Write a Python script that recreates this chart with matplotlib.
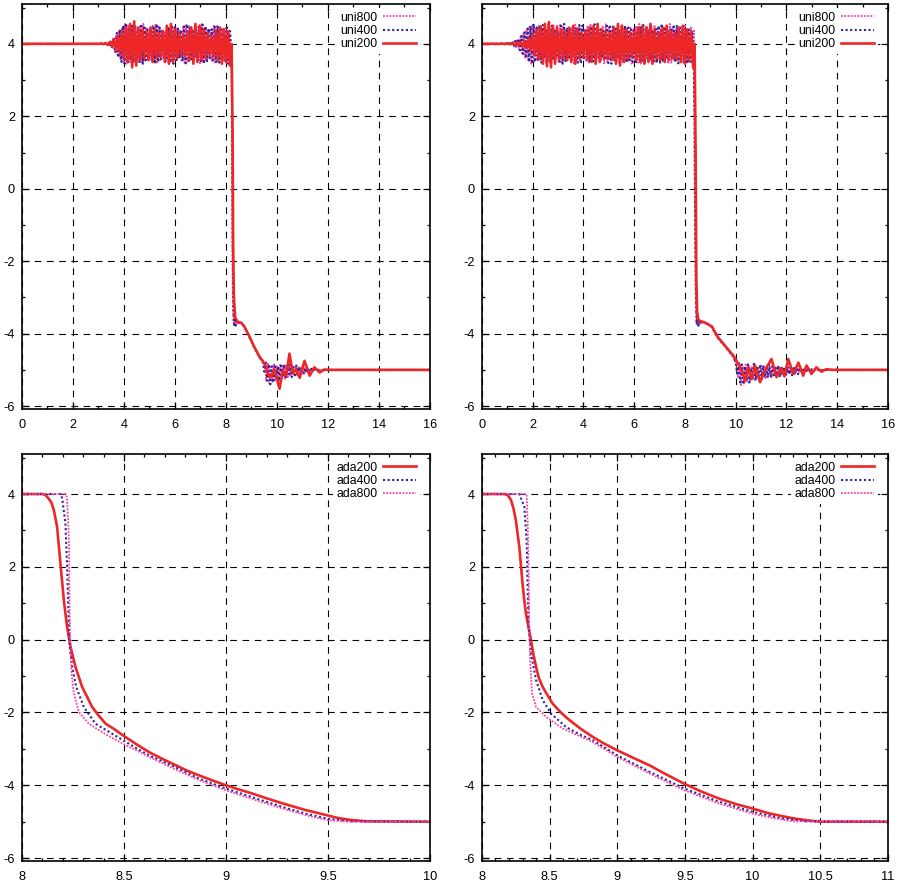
import matplotlib
matplotlib.use("Agg")
import matplotlib.pyplot as plt
from matplotlib.ticker import MultipleLocator, AutoMinorLocator
import numpy as np

plt.rcParams["font.family"] = ["Liberation Sans", "DejaVu Sans"]
plt.rcParams["axes.unicode_minus"] = False

RED = "#ee2626"
BLUE = "#27279a"
PINK = "#ff3fa6"

# ---------- top-left: uniform meshes ----------
# upper oscillations: (start, step, values)
tl_uni200_hi_x0, tl_uni200_hi_dx = 3.04, 0.08
tl_uni200_hi = [
    4.0, 4.01, 3.99, 4.02, 3.97, 4.05, 3.93, 4.12, 3.85, 4.22,
    3.72, 4.35, 3.6, 4.45, 3.5, 4.55, 3.35, 4.62, 3.4, 4.45,
    3.55, 4.4, 3.6, 4.35, 3.55, 4.45, 3.5, 4.4, 3.6, 4.3,
    3.65, 4.35, 3.5, 4.5, 3.45, 4.55, 3.5, 4.4, 3.6, 4.3,
    3.7, 4.25, 3.65, 4.35, 3.55, 4.45, 3.45, 4.55, 3.5, 4.5,
    3.55, 4.4, 3.6, 4.3, 3.7, 4.2, 3.65, 4.35, 3.55, 4.45,
    3.45, 4.4, 3.5, 4.35, 3.4]
tl_uni200_rest_x = [8.22, 8.26, 8.28, 8.31, 8.36, 8.45, 8.6, 8.72, 8.9, 9.1,
                    9.3, 9.44, 9.56, 9.64, 9.77, 9.9, 10.02, 10.1, 10.23, 10.36,
                    10.49, 10.62, 10.75, 10.89, 11.08, 11.28, 11.47, 11.67, 11.87, 12.0]
tl_uni200_rest_y = [4.0, 1.5, -1.5, -3.0, -3.55, -3.68, -3.7, -3.8, -4.05, -4.35,
                    -4.62, -4.75, -4.9, -5.11, -5.2, -4.98, -5.3, -5.52, -5.02, -5.16,
                    -4.55, -5.1, -4.98, -5.22, -4.75, -5.16, -4.93, -5.07, -4.99, -5.0]

tl_uni400_hi_x0, tl_uni400_hi_dx = 3.30, 0.06
tl_uni400_hi = [
    4.0, 4.02, 3.97, 4.06, 3.9, 4.18, 3.75, 4.3, 3.62, 4.4, 3.5, 4.5,
    3.45, 4.55, 3.5, 4.45, 3.55, 4.5, 3.48, 4.52, 3.6, 4.4,
    3.5, 4.55, 3.45, 4.5, 3.55, 4.4, 3.62, 4.35, 3.5, 4.5,
    3.45, 4.55, 3.5, 4.45, 3.58, 4.4, 3.65, 4.3, 3.55, 4.45,
    3.48, 4.52, 3.45, 4.5, 3.55, 4.42, 3.6, 4.38, 3.52, 4.48,
    3.46, 4.54, 3.5, 4.45, 3.58, 4.4, 3.62, 4.35, 3.55, 4.5,
    3.47, 4.53, 3.45, 4.48, 3.52, 4.42, 3.6, 4.4, 3.55, 4.47,
    3.5, 4.5, 3.48, 4.45, 3.55, 4.4, 3.5, 4.45, 3.45, 4.35, 3.6]
tl_uni400_mid_x = [8.25, 8.27, 8.29, 8.32, 8.35, 8.38, 8.42, 8.48, 8.6, 8.72, 8.9, 9.1, 9.3, 9.45]
tl_uni400_mid_y = [1.0, -2.0, -3.3, -3.8, -3.5, -3.78, -3.6, -3.72, -3.7, -3.82, -4.07, -4.37, -4.64, -4.8]
tl_uni400_lo_x0, tl_uni400_lo_dx = 9.5, 0.06
tl_uni400_lo = [
    -5.05, -4.8, -5.3, -4.85, -5.4, -4.9, -5.35, -4.85, -5.25, -4.9,
    -5.3, -4.88, -5.2, -4.85, -5.25, -4.9, -5.18, -4.85, -5.2, -4.92,
    -5.15, -4.88, -5.18, -4.92, -5.12, -4.93, -5.1, -4.95, -5.08, -4.96,
    -5.05, -4.97, -5.03, -4.98, -5.01, -5.0]

tl_uni800_hi_x0, tl_uni800_hi_dx = 3.32, 0.06
tl_uni800_hi = [
    4.0, 3.98, 4.04, 3.94, 4.1, 3.85, 4.22, 3.7, 4.35, 3.58, 4.45, 3.5,
    4.55, 3.45, 4.5, 3.5, 4.45, 3.55, 4.5, 3.6, 4.4, 3.5,
    4.52, 3.45, 4.55, 3.5, 4.42, 3.58, 4.38, 3.55, 4.5, 3.48,
    4.55, 3.45, 4.5, 3.55, 4.4, 3.6, 4.35, 3.52, 4.48, 3.46,
    4.53, 3.5, 4.45, 3.55, 4.42, 3.62, 4.4, 3.5, 4.5, 3.45,
    4.55, 3.48, 4.48, 3.56, 4.4, 3.6, 4.38, 3.52, 4.5, 3.46,
    4.54, 3.5, 4.47, 3.55, 4.4, 3.6, 4.42, 3.5, 4.5, 3.45,
    4.52, 3.5, 4.45, 3.55, 4.42, 3.5, 4.48, 3.45, 4.4, 3.55]
tl_uni800_mid_x = [8.22, 8.24, 8.26, 8.28, 8.31, 8.34, 8.37, 8.41, 8.46, 8.55, 8.7, 8.9, 9.1, 9.3, 9.45]
tl_uni800_mid_y = [4.0, 0.5, -2.5, -3.5, -3.75, -3.55, -3.8, -3.6, -3.75, -3.68, -3.78, -4.06, -4.36, -4.63, -4.8]
tl_uni800_lo_x0, tl_uni800_lo_dx = 9.52, 0.06
tl_uni800_lo = [
    -4.85, -5.3, -4.8, -5.38, -4.88, -5.35, -4.82, -5.28, -4.9, -5.32,
    -4.86, -5.22, -4.88, -5.25, -4.87, -5.2, -4.9, -5.18, -4.9, -5.15,
    -4.92, -5.16, -4.9, -5.12, -4.94, -5.1, -4.95, -5.08, -4.96, -5.06,
    -4.97, -5.04, -4.98, -5.02, -5.0]

# ---------- top-right ----------
tr_uni200_hi_x0, tr_uni200_hi_dx = 0.64, 0.08
tr_uni200_hi = [
    4.0, 4.0, 4.01, 3.99,
    4.0, 4.01, 3.99, 4.01, 3.98, 4.03, 3.96, 4.05, 3.93, 4.08,
    3.88, 4.15, 3.8, 4.25, 3.7, 4.38, 3.58, 4.48, 3.45, 4.55,
    3.38, 4.6, 3.35, 4.5, 3.45, 4.45, 3.55, 4.4, 3.6, 4.35,
    3.55, 4.45, 3.5, 4.5, 3.45, 4.4, 3.6, 4.3, 3.65, 4.35,
    3.55, 4.45, 3.5, 4.5, 3.45, 4.55, 3.5, 4.4, 3.6, 4.35,
    3.6, 4.3, 3.55, 4.45, 3.45, 4.55, 3.4, 4.5, 3.5, 4.4,
    3.6, 4.3, 3.65, 4.35, 3.55, 4.45, 3.5, 4.5, 3.45, 4.45,
    3.5, 4.55, 3.45, 4.4, 3.6, 4.3, 3.55, 4.45, 3.5, 4.5,
    3.55, 4.35, 3.6, 4.3, 3.55, 4.45, 3.5, 4.5, 3.45, 4.4,
    3.55, 4.35, 3.35]
tr_uni200_rest_x = [8.38, 8.42, 8.45, 8.48, 8.53, 8.6, 8.8, 9.06, 9.3, 9.6,
                    9.91, 10.11, 10.24, 10.37, 10.5, 10.63, 10.76, 10.96, 11.15, 11.41,
                    11.61, 11.8, 11.92, 12.07, 12.27, 12.47, 12.66, 12.79, 12.99, 13.18,
                    13.38, 13.57, 13.8]
tr_uni200_rest_y = [4.0, 1.0, -2.5, -3.4, -3.62, -3.65, -3.7, -3.8, -4.1, -4.35,
                    -4.61, -4.84, -5.02, -5.3, -4.93, -5.25, -4.88, -5.34, -5.02, -4.7,
                    -5.2, -4.95, -5.18, -4.7, -5.11, -4.8, -5.16, -4.88, -5.11, -4.93,
                    -5.05, -4.98, -5.0]

tr_uni400_hi_x0, tr_uni400_hi_dx = 0.84, 0.06
tr_uni400_hi = [
    4.0, 4.0, 4.01, 3.99, 4.02, 3.97, 4.04, 3.94, 4.08, 3.9, 4.14, 3.82, 4.22, 3.72, 4.32, 3.6, 4.42,
    3.5, 4.5, 3.45, 4.55, 3.5, 4.45, 3.55, 4.5, 3.48, 4.52,
    3.6, 4.4, 3.5, 4.55, 3.45, 4.5, 3.55, 4.4, 3.62, 4.35,
    3.5, 4.5, 3.45, 4.55, 3.5, 4.45, 3.58, 4.4, 3.65, 4.3,
    3.55, 4.45, 3.48, 4.52, 3.45, 4.5, 3.55, 4.42, 3.6, 4.38,
    3.52, 4.48, 3.46, 4.54, 3.5, 4.45, 3.58, 4.4, 3.62, 4.35,
    3.55, 4.5, 3.47, 4.53, 3.45, 4.48, 3.52, 4.42, 3.6, 4.4,
    3.55, 4.47, 3.5, 4.5, 3.48, 4.45, 3.55, 4.4, 3.5, 4.45,
    3.45, 4.35, 3.6, 4.45, 3.5, 4.52, 3.45, 4.5, 3.55, 4.4,
    3.6, 4.38, 3.52, 4.46, 3.48, 4.5, 3.45, 4.55, 3.5, 4.42,
    3.58, 4.36, 3.62, 4.4, 3.55, 4.48, 3.5, 4.52, 3.46, 4.45,
    3.55, 4.4, 3.5, 4.45, 3.45, 4.4, 3.5, 4.35, 3.6]
tr_uni400_mid_x = [8.38, 8.41, 8.44, 8.47, 8.5, 8.54, 8.58, 8.63, 8.7, 8.85, 9.06, 9.3, 9.6, 9.9]
tr_uni400_mid_y = [2.0, -1.5, -3.2, -3.75, -3.55, -3.78, -3.62, -3.72, -3.68, -3.7, -3.82, -4.12, -4.37, -4.63]
tr_uni400_lo_x0, tr_uni400_lo_dx = 10.0, 0.06
tr_uni400_lo = [
    -4.8, -5.1, -4.9, -5.35, -4.85, -5.4, -4.9, -5.3, -4.85, -5.35,
    -4.95, -5.25, -4.8, -5.3, -4.9, -5.2, -4.85, -5.25, -4.88, -5.2,
    -4.9, -5.22, -4.85, -5.18, -4.9, -5.2, -4.92, -5.15, -4.88, -5.2,
    -4.9, -5.15, -4.92, -5.18, -4.9, -5.12, -4.93, -5.15, -4.92, -5.1,
    -4.94, -5.12, -4.95, -5.08, -4.95, -5.07, -4.96, -5.05, -4.97, -5.04,
    -4.98, -5.03, -4.99, -5.02, -4.99, -5.01, -5.0, -5.01, -5.0]

tr_uni800_hi_x0, tr_uni800_hi_dx = 0.86, 0.06
tr_uni800_hi = [
    4.0, 4.01, 3.99, 4.02, 3.98, 4.04, 3.95, 4.07, 3.9, 4.13, 3.84, 4.2, 3.74, 4.3, 3.62, 4.4, 3.52,
    4.5, 3.45, 4.55, 3.5, 4.45, 3.55, 4.5, 3.6, 4.4, 3.5,
    4.52, 3.45, 4.55, 3.5, 4.42, 3.58, 4.38, 3.55, 4.5, 3.48,
    4.55, 3.45, 4.5, 3.55, 4.4, 3.6, 4.35, 3.52, 4.48, 3.46,
    4.53, 3.5, 4.45, 3.55, 4.42, 3.62, 4.4, 3.5, 4.5, 3.45,
    4.55, 3.48, 4.48, 3.56, 4.4, 3.6, 4.38, 3.52, 4.5, 3.46,
    4.54, 3.5, 4.47, 3.55, 4.4, 3.6, 4.42, 3.5, 4.5, 3.45,
    4.52, 3.5, 4.45, 3.55, 4.42, 3.5, 4.48, 3.45, 4.4, 3.55,
    4.5, 3.48, 4.55, 3.45, 4.45, 3.55, 4.4, 3.6, 4.35, 3.52,
    4.48, 3.46, 4.52, 3.5, 4.45, 3.56, 4.4, 3.6, 4.45, 3.5,
    4.5, 3.45, 4.55, 3.48, 4.46, 3.54, 4.4, 3.6, 4.42, 3.5,
    4.48, 3.45, 4.5, 3.5, 4.4, 3.55, 4.45, 3.5, 4.4]
tr_uni800_mid_x = [8.36, 8.39, 8.42, 8.45, 8.48, 8.52, 8.56, 8.61, 8.68, 8.85, 9.06, 9.3, 9.6, 9.9]
tr_uni800_mid_y = [3.0, -0.5, -2.8, -3.7, -3.5, -3.8, -3.6, -3.75, -3.66, -3.72, -3.8, -4.1, -4.36, -4.64]
tr_uni800_lo_x0, tr_uni800_lo_dx = 10.03, 0.06
tr_uni800_lo = [
    -4.85, -5.2, -4.8, -5.45, -4.9, -5.38, -4.85, -5.32, -4.88, -5.3,
    -4.9, -5.28, -4.85, -5.25, -4.92, -5.22, -4.88, -5.2, -4.9, -5.25,
    -4.88, -5.18, -4.9, -5.2, -4.93, -5.16, -4.9, -5.18, -4.92, -5.14,
    -4.94, -5.12, -4.93, -5.1, -4.95, -5.1, -4.95, -5.08, -4.96, -5.07,
    -4.97, -5.06, -4.97, -5.05, -4.98, -5.04, -4.98, -5.03, -4.99, -5.02,
    -4.99, -5.01, -5.0, -5.01, -5.0, -5.0, -5.0, -5.0]

# ---------- bottom-left: adaptive meshes ----------
bl_ada200_x = [8.0, 8.1, 8.115, 8.13, 8.145, 8.156, 8.172, 8.19, 8.205, 8.221, 8.238, 8.262,
               8.295, 8.344, 8.375, 8.41, 8.45, 8.495, 8.56, 8.623, 8.69, 8.754, 8.81, 8.869,
               8.94, 9.0, 9.06, 9.131, 9.2, 9.279, 9.39, 9.5, 9.55, 9.607, 9.69, 10.0]
bl_ada200_y = [4.0, 4.0, 3.97, 3.88, 3.75, 3.56, 3.1, 2.0, 1.09, 0.35, -0.2, -0.75,
               -1.3, -1.85, -2.08, -2.31, -2.45, -2.63, -2.87, -3.09, -3.28, -3.45, -3.6, -3.73,
               -3.88, -4.0, -4.11, -4.23, -4.36, -4.5, -4.68, -4.83, -4.9, -4.95, -4.99, -5.0]
bl_ada400_x = [8.0, 8.19, 8.197, 8.213, 8.221, 8.23, 8.234, 8.246, 8.266, 8.303, 8.36,
               8.44, 8.495, 8.56, 8.623, 8.75, 8.869, 9.0, 9.14, 9.279, 9.39, 9.5, 9.607, 10.0]
bl_ada400_y = [4.0, 4.0, 3.88, 3.19, 2.0, 0.35, -0.2, -0.75, -1.3, -1.85, -2.31,
               -2.58, -2.76, -2.98, -3.18, -3.5, -3.82, -4.09, -4.35, -4.6, -4.78, -4.92, -4.99, -5.0]
bl_ada800_x = [8.0, 8.215, 8.221, 8.23, 8.233, 8.238, 8.243, 8.254, 8.279, 8.328,
               8.41, 8.495, 8.56, 8.623, 8.75, 8.869, 9.0, 9.14, 9.279, 9.39, 9.5, 9.6, 10.0]
bl_ada800_y = [4.0, 4.0, 3.88, 2.73, 0.9, -0.38, -0.93, -1.48, -1.99, -2.31,
               -2.6, -2.86, -3.04, -3.22, -3.56, -3.86, -4.14, -4.4, -4.64, -4.82, -4.96, -5.0, -5.0]

# ---------- bottom-right ----------
br_ada200_x = [8.0, 8.165, 8.19, 8.214, 8.233, 8.25, 8.276, 8.30, 8.312, 8.325, 8.362, 8.38,
               8.40, 8.42, 8.449, 8.48, 8.523, 8.58, 8.646, 8.73, 8.818, 8.9, 9.0, 9.12,
               9.237, 9.36, 9.496, 9.62, 9.755, 9.88, 10.0, 10.12, 10.248, 10.32, 10.396,
               10.507, 11.0]
br_ada200_y = [4.0, 4.0, 3.97, 3.84, 3.6, 3.29, 2.55, 1.54, 1.1, 0.72, -0.01, -0.4,
               -0.75, -1.05, -1.3, -1.5, -1.76, -1.99, -2.21, -2.45, -2.67, -2.85, -3.04, -3.25,
               -3.45, -3.7, -3.96, -4.17, -4.37, -4.52, -4.64, -4.77, -4.87, -4.92, -4.96,
               -5.0, -5.0]
br_ada400_x = [8.0, 8.276, 8.313, 8.33, 8.338, 8.345, 8.362, 8.40, 8.449, 8.51, 8.621,
               8.72, 8.818, 9.0, 9.25, 9.496, 9.75, 10.0, 10.2, 10.396, 11.0]
br_ada400_y = [4.0, 4.0, 3.65, 2.73, 1.36, 0.35, -0.38, -1.11, -1.66, -2.03, -2.4,
               -2.6, -2.76, -3.18, -3.65, -4.09, -4.45, -4.73, -4.9, -4.99, -5.0]
br_ada800_x = [8.0, 8.33, 8.338, 8.345, 8.35, 8.355, 8.37, 8.40, 8.473, 8.597,
               8.71, 8.818, 9.0, 9.25, 9.496, 9.75, 10.0, 10.15, 10.3, 11.0]
br_ada800_y = [4.0, 4.0, 3.19, 1.82, 0.35, -0.47, -1.48, -1.85, -2.12, -2.44,
               -2.63, -2.81, -3.22, -3.7, -4.14, -4.5, -4.78, -4.9, -4.99, -5.0]


def uni_curve(x0, dx, hi, mid_x, mid_y, lo_x0=None, lo_dx=None, lo=None):
    hx = x0 + dx * np.arange(len(hi))
    xs = [np.array([0.0]), hx, np.array(mid_x)]
    ys = [np.array([4.0]), np.array(hi), np.array(mid_y)]
    if lo is not None:
        xs.append(lo_x0 + lo_dx * np.arange(len(lo)))
        ys.append(np.array(lo))
    xs.append(np.array([16.0]))
    ys.append(np.array([-5.0]))
    return np.concatenate(xs), np.concatenate(ys)


def style_axes(ax, xlim, xmajor, xminor_n):
    ax.set_xlim(*xlim)
    ax.set_ylim(-6.08, 5.1)
    ax.xaxis.set_major_locator(MultipleLocator(xmajor))
    ax.xaxis.set_minor_locator(AutoMinorLocator(xminor_n))
    ax.yaxis.set_major_locator(MultipleLocator(2))
    ax.yaxis.set_minor_locator(AutoMinorLocator(2))
    ax.tick_params(which="both", direction="in", top=True, right=True, labelsize=9.2,
                   width=0.9, colors="black")
    ax.tick_params(which="major", length=5)
    ax.tick_params(axis="x", which="major", pad=7)
    ax.tick_params(axis="y", which="major", pad=5)
    ax.tick_params(which="minor", length=2.5)
    ax.grid(True, which="major", color="black", linestyle=(0, (6, 5)), linewidth=0.8)
    for s in ax.spines.values():
        s.set_linewidth(1.2)
    ax.xaxis.set_major_formatter(plt.FuncFormatter(lambda v, p: f"{v:g}"))
    # opaque key without a border, like gnuplot's
    leg = ax.legend(loc="upper right", bbox_to_anchor=(0.975, 0.99), frameon=True,
                    facecolor="white", edgecolor="none", framealpha=1.0, fancybox=False,
                    markerfirst=False, fontsize=8.8, handlelength=2.7, labelspacing=0.1,
                    borderaxespad=0.0, borderpad=0.3, handletextpad=0.45)
    leg.set_zorder(5)


fig = plt.figure(figsize=(8.98, 8.83), dpi=100)
ax_tl = fig.add_axes([0.0245, 0.5368, 0.4543, 0.4587])
ax_tr = fig.add_axes([0.5367, 0.5368, 0.4521, 0.4587])
ax_bl = fig.add_axes([0.0245, 0.0249, 0.4543, 0.461])
ax_br = fig.add_axes([0.5367, 0.0249, 0.4521, 0.461])

pink_kw = dict(color=PINK, linestyle=(0, (1, 0.8)), linewidth=1.3)
blue_kw = dict(color=BLUE, linestyle=(0, (1, 1.2)), linewidth=1.5)
red_kw = dict(color=RED, linestyle="-", linewidth=1.9)

# top-left
x, y = uni_curve(tl_uni800_hi_x0, tl_uni800_hi_dx, tl_uni800_hi, tl_uni800_mid_x, tl_uni800_mid_y,
                 tl_uni800_lo_x0, tl_uni800_lo_dx, tl_uni800_lo)
ax_tl.plot(x, y, label="uni800", **pink_kw)
x, y = uni_curve(tl_uni400_hi_x0, tl_uni400_hi_dx, tl_uni400_hi, tl_uni400_mid_x, tl_uni400_mid_y,
                 tl_uni400_lo_x0, tl_uni400_lo_dx, tl_uni400_lo)
ax_tl.plot(x, y, label="uni400", **blue_kw)
x, y = uni_curve(tl_uni200_hi_x0, tl_uni200_hi_dx, tl_uni200_hi, tl_uni200_rest_x, tl_uni200_rest_y)
ax_tl.plot(x, y, label="uni200", **red_kw)
style_axes(ax_tl, (0, 16), 2, 2)

# top-right
x, y = uni_curve(tr_uni800_hi_x0, tr_uni800_hi_dx, tr_uni800_hi, tr_uni800_mid_x, tr_uni800_mid_y,
                 tr_uni800_lo_x0, tr_uni800_lo_dx, tr_uni800_lo)
ax_tr.plot(x, y, label="uni800", **pink_kw)
x, y = uni_curve(tr_uni400_hi_x0, tr_uni400_hi_dx, tr_uni400_hi, tr_uni400_mid_x, tr_uni400_mid_y,
                 tr_uni400_lo_x0, tr_uni400_lo_dx, tr_uni400_lo)
ax_tr.plot(x, y, label="uni400", **blue_kw)
x, y = uni_curve(tr_uni200_hi_x0, tr_uni200_hi_dx, tr_uni200_hi, tr_uni200_rest_x, tr_uni200_rest_y)
ax_tr.plot(x, y, label="uni200", **red_kw)
style_axes(ax_tr, (0, 16), 2, 2)

# bottom-left
ax_bl.plot(bl_ada200_x, bl_ada200_y, label="ada200", **red_kw)
ax_bl.plot(bl_ada400_x, bl_ada400_y, label="ada400", **blue_kw)
ax_bl.plot(bl_ada800_x, bl_ada800_y, label="ada800", **pink_kw)
style_axes(ax_bl, (8, 10), 0.5, 5)

# bottom-right
ax_br.plot(br_ada200_x, br_ada200_y, label="ada200", **red_kw)
ax_br.plot(br_ada400_x, br_ada400_y, label="ada400", **blue_kw)
ax_br.plot(br_ada800_x, br_ada800_y, label="ada800", **pink_kw)
style_axes(ax_br, (8, 11), 0.5, 5)

fig.savefig("out.png", dpi=100)
plt.close(fig)
